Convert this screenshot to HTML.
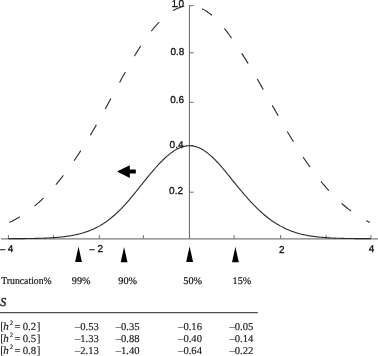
<!DOCTYPE html>
<html><head><meta charset="utf-8"><style>
html,body{margin:0;padding:0;background:#fff;}
svg{display:block;}
text{text-rendering:geometricPrecision;}
.ax{font-family:"Liberation Sans",Arial,sans-serif;font-size:10px;fill:#111;stroke:#111;stroke-width:0.3px;}
.tr{font-family:"Liberation Serif","Times New Roman",serif;font-size:10.2px;fill:#111;stroke:#111;stroke-width:0.18px;}
.tb{font-family:"Liberation Serif","Times New Roman",serif;font-size:10.6px;fill:#1a1a1a;stroke:#1a1a1a;stroke-width:0.15px;}
</style></head><body>
<svg width="378" height="356" viewBox="0 0 378 356">
<line x1="1" y1="238.9" x2="378" y2="238.9" stroke="#7c7c7c" stroke-width="1.2"/>
<line x1="189.45" y1="5.1" x2="189.45" y2="238.7" stroke="#707070" stroke-width="1.1"/>
<line x1="189.45" y1="5.6" x2="193.7" y2="5.6" stroke="#707070" stroke-width="1"/>
<line x1="189.45" y1="52.8" x2="193.7" y2="52.8" stroke="#707070" stroke-width="1"/>
<line x1="189.45" y1="102.3" x2="193.7" y2="102.3" stroke="#707070" stroke-width="1"/>
<line x1="189.45" y1="145.6" x2="193.7" y2="145.6" stroke="#707070" stroke-width="1"/>
<line x1="189.45" y1="192.2" x2="193.7" y2="192.2" stroke="#707070" stroke-width="1"/>
<line x1="8.40" y1="238.7" x2="8.40" y2="235.1" stroke="#707070" stroke-width="1"/>
<line x1="53.40" y1="238.7" x2="53.40" y2="235.1" stroke="#707070" stroke-width="1"/>
<line x1="99.30" y1="238.7" x2="99.30" y2="235.1" stroke="#707070" stroke-width="1"/>
<line x1="143.40" y1="238.7" x2="143.40" y2="235.1" stroke="#707070" stroke-width="1"/>
<line x1="189.60" y1="238.7" x2="189.60" y2="235.1" stroke="#707070" stroke-width="1"/>
<line x1="234.10" y1="238.7" x2="234.10" y2="235.1" stroke="#707070" stroke-width="1"/>
<line x1="280.60" y1="238.7" x2="280.60" y2="235.1" stroke="#707070" stroke-width="1"/>
<line x1="326.10" y1="238.7" x2="326.10" y2="235.1" stroke="#707070" stroke-width="1"/>
<line x1="370.90" y1="238.7" x2="370.90" y2="235.1" stroke="#707070" stroke-width="1"/>
<text x="171.4" y="6.5" class="ax">1</text>
<text x="184.2" y="6.5" class="ax" text-anchor="end">.0</text>
<text x="184.3" y="55.0" class="ax" text-anchor="end">0.8</text>
<text x="184.1" y="102.8" class="ax" text-anchor="end">0.6</text>
<text x="183.5" y="147.7" class="ax" text-anchor="end">0.4</text>
<text x="183.0" y="193.9" class="ax" text-anchor="end">0.2</text>
<text x="-0.3" y="253.2" class="ax">−</text><text x="7.8" y="252.2" class="ax">4</text>
<text x="88.9" y="253.3" class="ax">−</text><text x="97.5" y="252.2" class="ax">2</text>
<text x="279.0" y="252.6" class="ax">2</text>
<text x="368.7" y="251.8" class="ax">4</text>
<polyline points="8.40,222.94 9.30,222.51 10.20,222.07 11.10,221.63 12.00,221.17 12.90,220.70 13.80,220.22 14.70,219.74 15.60,219.24 16.49,218.73 17.39,218.21 18.29,217.68 19.19,217.14 20.09,216.59 20.99,216.03 21.89,215.45 22.79,214.87 23.69,214.27 24.59,213.67 25.49,213.05 26.39,212.42 27.29,211.77 28.19,211.12 29.09,210.45 29.99,209.77 30.89,209.08 31.79,208.38 32.68,207.66 33.58,206.93 34.48,206.19 35.38,205.44 36.28,204.67 37.18,203.89 38.08,203.09 38.98,202.29 39.88,201.47 40.78,200.63 41.68,199.79 42.58,198.92 43.48,198.05 44.38,197.16 45.28,196.26 46.18,195.35 47.08,194.42 47.98,193.47 48.87,192.52 49.77,191.55 50.67,190.56 51.57,189.56 52.47,188.55 53.37,187.52 54.29,186.48 55.21,185.43 56.12,184.36 57.04,183.28 57.96,182.18 58.88,181.07 59.79,179.95 60.71,178.81 61.63,177.66 62.55,176.49 63.46,175.31 64.38,174.12 65.30,172.91 66.22,171.69 67.13,170.46 68.05,169.21 68.97,167.95 69.88,166.68 70.80,165.39 71.72,164.09 72.64,162.78 73.55,161.46 74.47,160.12 75.39,158.77 76.31,157.41 77.22,156.03 78.14,154.65 79.06,153.25 79.98,151.84 80.89,150.42 81.81,148.99 82.73,147.54 83.65,146.09 84.56,144.63 85.48,143.15 86.40,141.67 87.32,140.17 88.23,138.67 89.15,137.15 90.07,135.63 90.99,134.10 91.90,132.56 92.82,131.01 93.74,129.46 94.66,127.89 95.57,126.32 96.49,124.75 97.41,123.16 98.33,121.57 99.24,119.98 100.13,118.38 101.01,116.77 101.89,115.16 102.77,113.54 103.65,111.92 104.53,110.30 105.41,108.67 106.30,107.04 107.18,105.41 108.06,103.77 108.94,102.13 109.82,100.50 110.70,98.86 111.58,97.22 112.47,95.58 113.35,93.94 114.23,92.30 115.11,90.67 115.99,89.03 116.87,87.40 117.76,85.77 118.64,84.15 119.52,82.52 120.40,80.91 121.28,79.29 122.16,77.69 123.04,76.08 123.93,74.49 124.81,72.90 125.69,71.31 126.57,69.74 127.45,68.17 128.33,66.61 129.21,65.06 130.10,63.52 130.98,62.00 131.86,60.48 132.74,58.97 133.62,57.47 134.50,55.99 135.38,54.52 136.27,53.06 137.15,51.62 138.03,50.18 138.91,48.77 139.79,47.37 140.67,45.98 141.55,44.61 142.44,43.26 143.32,41.93 144.24,40.61 145.16,39.31 146.08,38.03 147.01,36.76 147.93,35.52 148.85,34.30 149.78,33.10 150.70,31.91 151.62,30.75 152.55,29.61 153.47,28.49 154.39,27.40 155.32,26.33 156.24,25.28 157.16,24.25 158.09,23.25 159.01,22.28 159.93,21.32 160.86,20.40 161.78,19.50 162.70,18.62 163.63,17.77 164.55,16.95 165.48,16.15 166.40,15.39 167.32,14.64 168.25,13.93 169.17,13.25 170.09,12.59 171.02,11.96 171.94,11.36 172.86,10.79 173.79,10.25 174.71,9.74 175.63,9.26 176.56,8.81 177.48,8.38 178.40,7.99 179.33,7.63 180.25,7.30 181.17,7.00 182.10,6.73 183.02,6.49 183.94,6.29 184.87,6.11 185.79,5.97 186.71,5.85 187.64,5.77 188.56,5.72 189.48,5.70 190.38,5.71 191.27,5.76 192.16,5.83 193.05,5.94 193.94,6.07 194.83,6.24 195.71,6.44 196.60,6.67 197.49,6.93 198.38,7.22 199.27,7.55 200.16,7.90 201.05,8.28 201.94,8.70 202.83,9.14 203.72,9.62 204.61,10.12 205.50,10.65 206.39,11.22 207.28,11.81 208.17,12.43 209.06,13.08 209.95,13.76 210.84,14.46 211.72,15.20 212.61,15.96 213.50,16.75 214.39,17.56 215.28,18.41 216.17,19.27 217.06,20.17 217.95,21.09 218.84,22.03 219.73,23.01 220.62,24.00 221.51,25.02 222.40,26.06 223.29,27.13 224.18,28.22 225.07,29.33 225.96,30.46 226.85,31.62 227.73,32.80 228.62,33.99 229.51,35.21 230.40,36.45 231.29,37.71 232.18,38.99 233.07,40.28 233.96,41.59 234.88,42.93 235.81,44.27 236.74,45.64 237.67,47.02 238.60,48.42 239.53,49.83 240.46,51.26 241.39,52.70 242.32,54.15 243.25,55.62 244.18,57.10 245.11,58.59 246.04,60.10 246.97,61.61 247.90,63.14 248.82,64.68 249.75,66.22 250.68,67.78 251.61,69.35 252.54,70.92 253.47,72.50 254.40,74.09 255.33,75.68 256.26,77.28 257.19,78.89 258.12,80.50 259.05,82.12 259.98,83.74 260.91,85.36 261.84,86.99 262.77,88.62 263.70,90.26 264.63,91.89 265.55,93.53 266.48,95.17 267.41,96.81 268.34,98.45 269.27,100.09 270.20,101.72 271.13,103.36 272.06,105.00 272.99,106.63 273.92,108.26 274.85,109.89 275.78,111.51 276.71,113.13 277.64,114.75 278.57,116.36 279.50,117.97 280.43,119.58 281.34,121.17 282.25,122.77 283.16,124.35 284.07,125.93 284.98,127.50 285.89,129.07 286.79,130.62 287.70,132.17 288.61,133.72 289.52,135.25 290.43,136.77 291.34,138.29 292.25,139.80 293.16,141.29 294.07,142.78 294.98,144.26 295.89,145.72 296.80,147.18 297.71,148.63 298.62,150.06 299.53,151.48 300.44,152.90 301.35,154.30 302.26,155.69 303.16,157.06 304.07,158.43 304.98,159.78 305.89,161.12 306.80,162.45 307.71,163.77 308.62,165.07 309.53,166.36 310.44,167.64 311.35,168.90 312.26,170.15 313.17,171.39 314.08,172.61 314.99,173.82 315.90,175.02 316.81,176.20 317.72,177.37 318.62,178.52 319.53,179.66 320.44,180.79 321.35,181.91 322.26,183.01 323.17,184.09 324.08,185.16 324.99,186.22 325.90,187.27 326.80,188.30 327.69,189.31 328.59,190.31 329.49,191.30 330.38,192.28 331.28,193.24 332.17,194.18 333.07,195.11 333.96,196.03 334.86,196.94 335.75,197.83 336.65,198.71 337.54,199.57 338.44,200.42 339.34,201.26 340.23,202.08 341.13,202.89 342.02,203.69 342.92,204.47 343.81,205.24 344.71,206.00 345.60,206.75 346.50,207.48 347.39,208.20 348.29,208.91 349.18,209.60 350.08,210.28 350.98,210.95 351.87,211.61 352.77,212.26 353.66,212.89 354.56,213.51 355.45,214.12 356.35,214.72 357.24,215.31 358.14,215.89 359.03,216.45 359.93,217.00 360.83,217.55 361.72,218.08 362.62,218.60 363.51,219.11 364.41,219.61 365.30,220.10 366.20,220.58 367.09,221.05 367.99,221.51 368.88,221.96 369.78,222.40" fill="none" stroke="#2a2a2a" stroke-width="1.1" stroke-dasharray="12 18.18" stroke-dashoffset="29.09"/>
<polyline points="8.40,238.67 9.30,238.67 10.20,238.66 11.10,238.66 12.00,238.66 12.90,238.65 13.80,238.65 14.70,238.65 15.60,238.64 16.50,238.64 17.40,238.63 18.30,238.63 19.20,238.62 20.10,238.61 21.00,238.61 21.90,238.60 22.80,238.59 23.70,238.59 24.60,238.58 25.50,238.57 26.40,238.56 27.30,238.55 28.20,238.54 29.10,238.52 30.00,238.51 30.90,238.50 31.80,238.48 32.70,238.47 33.60,238.45 34.50,238.43 35.40,238.41 36.30,238.39 37.20,238.37 38.10,238.35 39.00,238.32 39.90,238.30 40.80,238.27 41.70,238.24 42.60,238.21 43.50,238.18 44.40,238.14 45.30,238.11 46.20,238.07 47.10,238.03 48.00,237.98 48.90,237.94 49.80,237.89 50.70,237.84 51.60,237.78 52.50,237.73 53.40,237.67 54.32,237.60 55.24,237.54 56.15,237.47 57.07,237.39 57.99,237.31 58.91,237.23 59.83,237.14 60.74,237.05 61.66,236.96 62.58,236.86 63.50,236.75 64.42,236.64 65.33,236.52 66.25,236.40 67.17,236.27 68.09,236.14 69.01,236.00 69.92,235.85 70.84,235.70 71.76,235.54 72.68,235.37 73.60,235.19 74.51,235.01 75.43,234.82 76.35,234.62 77.27,234.41 78.19,234.19 79.10,233.96 80.02,233.73 80.94,233.48 81.86,233.23 82.78,232.96 83.69,232.68 84.61,232.40 85.53,232.10 86.45,231.79 87.37,231.47 88.28,231.14 89.20,230.79 90.12,230.43 91.04,230.06 91.96,229.68 92.87,229.29 93.79,228.88 94.71,228.45 95.63,228.01 96.55,227.56 97.46,227.10 98.38,226.62 99.30,226.12 100.18,225.61 101.06,225.08 101.95,224.54 102.83,223.98 103.71,223.41 104.59,222.82 105.47,222.22 106.36,221.60 107.24,220.96 108.12,220.30 109.00,219.63 109.88,218.95 110.77,218.24 111.65,217.52 112.53,216.79 113.41,216.03 114.29,215.26 115.18,214.48 116.06,213.67 116.94,212.86 117.82,212.02 118.70,211.17 119.59,210.30 120.47,209.42 121.35,208.52 122.23,207.61 123.11,206.68 124.00,205.74 124.88,204.78 125.76,203.81 126.64,202.83 127.52,201.83 128.41,200.82 129.29,199.80 130.17,198.77 131.05,197.73 131.93,196.67 132.82,195.61 133.70,194.54 134.58,193.45 135.46,192.36 136.34,191.27 137.23,190.16 138.11,189.05 138.99,187.94 139.87,186.82 140.75,185.70 141.64,184.57 142.52,183.45 143.40,182.32 144.32,181.19 145.25,180.07 146.17,178.94 147.10,177.82 148.02,176.70 148.94,175.59 149.87,174.48 150.79,173.38 151.72,172.29 152.64,171.20 153.56,170.13 154.49,169.06 155.41,168.01 156.34,166.97 157.26,165.94 158.18,164.93 159.11,163.94 160.03,162.96 160.96,162.00 161.88,161.06 162.80,160.14 163.73,159.24 164.65,158.36 165.58,157.50 166.50,156.67 167.42,155.86 168.35,155.08 169.27,154.32 170.20,153.59 171.12,152.89 172.04,152.22 172.97,151.58 173.89,150.97 174.82,150.39 175.74,149.84 176.66,149.32 177.59,148.84 178.51,148.39 179.44,147.97 180.36,147.59 181.28,147.24 182.21,146.93 183.13,146.65 184.06,146.41 184.98,146.21 185.90,146.04 186.83,145.91 187.75,145.82 188.68,145.77 189.60,145.75 190.49,145.77 191.38,145.82 192.27,145.91 193.16,146.04 194.05,146.21 194.94,146.41 195.83,146.65 196.72,146.93 197.61,147.24 198.50,147.59 199.39,147.97 200.28,148.39 201.17,148.84 202.06,149.32 202.95,149.84 203.84,150.39 204.73,150.97 205.62,151.58 206.51,152.22 207.40,152.89 208.29,153.59 209.18,154.32 210.07,155.08 210.96,155.86 211.85,156.67 212.74,157.50 213.63,158.36 214.52,159.24 215.41,160.14 216.30,161.06 217.19,162.00 218.08,162.96 218.97,163.94 219.86,164.93 220.75,165.94 221.64,166.97 222.53,168.01 223.42,169.06 224.31,170.13 225.20,171.20 226.09,172.29 226.98,173.38 227.87,174.48 228.76,175.59 229.65,176.70 230.54,177.82 231.43,178.94 232.32,180.07 233.21,181.19 234.10,182.32 235.03,183.45 235.96,184.57 236.89,185.70 237.82,186.82 238.75,187.94 239.68,189.05 240.61,190.16 241.54,191.27 242.47,192.36 243.40,193.45 244.33,194.54 245.26,195.61 246.19,196.67 247.12,197.73 248.05,198.77 248.98,199.80 249.91,200.82 250.84,201.83 251.77,202.83 252.70,203.81 253.63,204.78 254.56,205.74 255.49,206.68 256.42,207.61 257.35,208.52 258.28,209.42 259.21,210.30 260.14,211.17 261.07,212.02 262.00,212.86 262.93,213.67 263.86,214.48 264.79,215.26 265.72,216.03 266.65,216.79 267.58,217.52 268.51,218.24 269.44,218.95 270.37,219.63 271.30,220.30 272.23,220.96 273.16,221.60 274.09,222.22 275.02,222.82 275.95,223.41 276.88,223.98 277.81,224.54 278.74,225.08 279.67,225.61 280.60,226.12 281.51,226.62 282.42,227.10 283.33,227.56 284.24,228.01 285.15,228.45 286.06,228.88 286.97,229.29 287.88,229.68 288.79,230.06 289.70,230.43 290.61,230.79 291.52,231.14 292.43,231.47 293.34,231.79 294.25,232.10 295.16,232.40 296.07,232.68 296.98,232.96 297.89,233.23 298.80,233.48 299.71,233.73 300.62,233.96 301.53,234.19 302.44,234.41 303.35,234.62 304.26,234.82 305.17,235.01 306.08,235.19 306.99,235.37 307.90,235.54 308.81,235.70 309.72,235.85 310.63,236.00 311.54,236.14 312.45,236.27 313.36,236.40 314.27,236.52 315.18,236.64 316.09,236.75 317.00,236.86 317.91,236.96 318.82,237.05 319.73,237.14 320.64,237.23 321.55,237.31 322.46,237.39 323.37,237.47 324.28,237.54 325.19,237.60 326.10,237.67 327.00,237.73 327.89,237.78 328.79,237.84 329.68,237.89 330.58,237.94 331.48,237.98 332.37,238.03 333.27,238.07 334.16,238.11 335.06,238.14 335.96,238.18 336.85,238.21 337.75,238.24 338.64,238.27 339.54,238.30 340.44,238.32 341.33,238.35 342.23,238.37 343.12,238.39 344.02,238.41 344.92,238.43 345.81,238.45 346.71,238.47 347.60,238.48 348.50,238.50 349.40,238.51 350.29,238.52 351.19,238.54 352.08,238.55 352.98,238.56 353.88,238.57 354.77,238.58 355.67,238.59 356.56,238.59 357.46,238.60 358.36,238.61 359.25,238.61 360.15,238.62 361.04,238.63 361.94,238.63 362.84,238.64 363.73,238.64 364.63,238.65 365.52,238.65 366.42,238.65 367.32,238.66 368.21,238.66 369.11,238.66 370.00,238.67 370.90,238.67" fill="none" stroke="#2a2a2a" stroke-width="1.1"/>
<polygon points="117,171.5 129.8,165.3 129.8,169.5 135.8,169.5 135.8,173.5 129.8,173.5 129.8,177.9" fill="#000"/>
<polygon points="78.5,246.6 81.9,262 75.1,262" fill="#000"/>
<polygon points="124.1,247.0 127.5,262.3 120.7,262.3" fill="#000"/>
<polygon points="189.6,246.3 193.1,262 186.2,262" fill="#000"/>
<polygon points="235.4,246.8 238.8,262.3 232.0,262.3" fill="#000"/>
<text x="1.2" y="284.3" class="tr" textLength="50.5" lengthAdjust="spacingAndGlyphs">Truncation%</text>
<text x="71.8" y="284.4" class="tr">99%</text>
<text x="118.3" y="284.4" class="tr">90%</text>
<text x="183.3" y="284.4" class="tr">50%</text>
<text x="232.6" y="284.4" class="tr">15%</text>
<text x="0.2" y="306.2" class="tb" font-style="italic" style="font-size:12px;stroke-width:0.4px">S</text>
<line x1="0" y1="312.6" x2="257.8" y2="312.6" stroke="#505050" stroke-width="1.1"/>
<text x="0.3" y="329.8" class="tb" style="font-size:11px">[</text>
<text x="3.2" y="330.1" class="tb" font-style="italic" style="font-size:11px">h</text>
<text x="9.7" y="324.9" class="tb" style="font-size:6.6px">2</text>
<text x="14.5" y="329.8" class="tb">=</text>
<text x="22.7" y="329.8" class="tb" style="font-size:10.8px">0.2</text>
<text x="36.7" y="329.8" class="tb" style="font-size:11px">]</text>
<text x="75.0" y="329.8" class="tb">–0.53</text>
<text x="115.7" y="329.8" class="tb">–0.35</text>
<text x="178.1" y="329.8" class="tb">–0.16</text>
<text x="229.4" y="329.8" class="tb">–0.05</text>
<text x="0.3" y="341.8" class="tb" style="font-size:11px">[</text>
<text x="3.2" y="342.1" class="tb" font-style="italic" style="font-size:11px">h</text>
<text x="9.7" y="336.9" class="tb" style="font-size:6.6px">2</text>
<text x="14.5" y="341.8" class="tb">=</text>
<text x="22.7" y="341.8" class="tb" style="font-size:10.8px">0.5</text>
<text x="36.7" y="341.8" class="tb" style="font-size:11px">]</text>
<text x="75.0" y="341.8" class="tb">–1.33</text>
<text x="115.7" y="341.8" class="tb">–0.88</text>
<text x="178.1" y="341.8" class="tb">–0.40</text>
<text x="229.4" y="341.8" class="tb">–0.14</text>
<text x="0.3" y="353.7" class="tb" style="font-size:11px">[</text>
<text x="3.2" y="354.0" class="tb" font-style="italic" style="font-size:11px">h</text>
<text x="9.7" y="348.8" class="tb" style="font-size:6.6px">2</text>
<text x="14.5" y="353.7" class="tb">=</text>
<text x="22.7" y="353.7" class="tb" style="font-size:10.8px">0.8</text>
<text x="36.7" y="353.7" class="tb" style="font-size:11px">]</text>
<text x="75.0" y="353.7" class="tb">–2.13</text>
<text x="115.7" y="353.7" class="tb">–1.40</text>
<text x="178.1" y="353.7" class="tb">–0.64</text>
<text x="229.4" y="353.7" class="tb">–0.22</text>
</svg>
</body></html>
